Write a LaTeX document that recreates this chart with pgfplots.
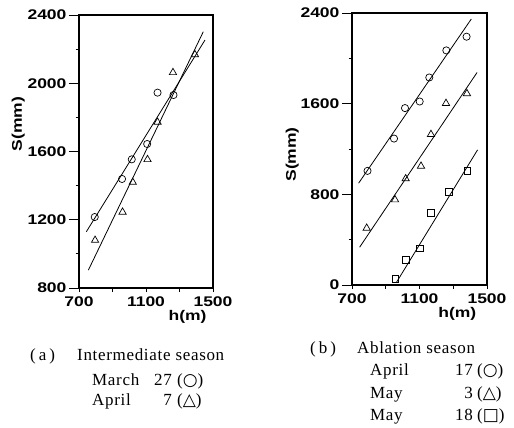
\documentclass[border=0pt]{standalone}
\usepackage{fontspec}
\setmainfont{Liberation Serif}
\newfontfamily\tickfont[FakeStretch=1.25]{Liberation Sans}
\newfontfamily\symfont{DejaVu Sans}
\usepackage{pgfplots}
\pgfplotsset{compat=1.18}

\pgfplotsset{
  panel/.style={
    scale only axis,
    xmin=700, xmax=1500,
    xtick={700,1100,1500},
    minor xtick={700,900,1100,1300,1500},
    major x tick style={draw=none},
    tick align=outside,
    major tick length=10pt,
    minor tick length=3.5pt,
    tick style={black, line width=0.8pt},
    axis line style={line width=1.1pt},
    xtick pos=bottom, ytick pos=left,
    /pgf/number format/1000 sep={},
    /pgf/number format/assume math mode=true,
    ticklabel style={font=\fontsize{14pt}{14pt}\tickfont\bfseries},
    xticklabel style={yshift=5pt},
    yticklabel style={xshift=1pt},
    xlabel={h(m)},
    ylabel={S(mm)},
  },
  fit/.style={black, line width=0.8pt, no marks},
  pts/.style={only marks, black, mark options={fill=white, line width=0.7pt}},
}

\begin{document}
\begin{tikzpicture}
\path[use as bounding box] (0,0) rectangle (514pt,-428pt);

% (a) intermediate season
\begin{axis}[panel,
  at={(79pt,-288pt)}, anchor=south west,
  width=134pt, height=273pt,
  ymin=800, ymax=2400,
  ytick={800,1200,1600,2000,2400},
  minor ytick={1000,1400,1800,2200},
  every axis x label/.style={at={(ticklabel cs:0.81)}, anchor=north, yshift=3pt,
    font=\fontsize{14pt}{14pt}\tickfont\bfseries},
  every axis y label/.style={at={(ticklabel cs:0.60)}, rotate=90, anchor=south, yshift=-4pt,
    font=\fontsize{14pt}{14pt}\tickfont\bfseries},
]
\addplot[fit] coordinates {(744,1130) (1452,2253)};
\addplot[fit] coordinates {(756,905) (1442,2302)};
\addplot[pts, mark=o, mark size=3.6pt] coordinates {
  (794,1216) (957,1439) (1015,1554) (1107,1644) (1169,1945) (1264,1931)};
\addplot[pts, mark=triangle, mark size=4.2pt] coordinates {
  (796,1080) (960,1245) (1021,1420) (1109,1553) (1169,1772) (1261,2063) (1392,2168)};
\end{axis}

% (b) ablation season
\begin{axis}[panel,
  at={(352pt,-285pt)}, anchor=south west,
  width=135pt, height=272pt,
  ymin=0, ymax=2400,
  ytick={0,800,1600,2400},
  yticklabels={{\raisebox{-8pt}{0}},800,1600,2400},
  minor ytick={400,1200,2000},
  every axis x label/.style={at={(ticklabel cs:0.78)}, anchor=north, yshift=3pt,
    font=\fontsize{14pt}{14pt}\tickfont\bfseries},
  every axis y label/.style={at={(ticklabel cs:0.48)}, rotate=90, anchor=south, yshift=-5pt,
    font=\fontsize{14pt}{14pt}\tickfont\bfseries},
]
\addplot[fit] coordinates {(739,898) (1407,2347)};
\addplot[fit] coordinates {(745,333) (1441,1875)};
\addplot[fit] coordinates {(962,20) (1444,1192)};
\addplot[pts, mark=o, mark size=3.6pt] coordinates {
  (792,1007) (949,1292) (1014,1561) (1101,1619) (1158,1831) (1259,2070) (1379,2191)};
\addplot[pts, mark=triangle, mark size=4.2pt] coordinates {
  (787,502) (955,752) (1018,938) (1109,1049) (1168,1329) (1257,1603) (1381,1689)};
\addplot[pts, mark=square, mark size=3.4pt] coordinates {
  (957,56) (1018,221) (1101,324) (1168,639) (1273,819) (1383,1007)};
\end{axis}

% captions
\begin{scope}[every node/.style={inner sep=0pt, font=\fontsize{17pt}{17pt}\selectfont\addfontfeatures{LetterSpace=4}}]
\node[anchor=base west] at (30pt,-360pt) {(\hspace{3pt}a\hspace{3pt})};
\node[anchor=base west] at (77pt,-360pt) {Intermediate season};
\node[anchor=base west] at (92pt,-385pt) {March};
\node[anchor=base east] at (172pt,-385pt) {27};
\node[anchor=base west] at (177pt,-385pt) {({\symfont ○})};
\node[anchor=base west] at (92pt,-405.5pt) {April};
\node[anchor=base east] at (172pt,-405.5pt) {7};
\node[anchor=base west] at (177pt,-405.5pt) {({\symfont △})};

\node[anchor=base west] at (310pt,-353pt) {(\hspace{3pt}b\hspace{3pt})};
\node[anchor=base west] at (357pt,-353pt) {Ablation season};
\node[anchor=base west] at (370pt,-375pt) {April};
\node[anchor=base east] at (473pt,-375pt) {17};
\node[anchor=base west] at (477pt,-375pt) {({\symfont ○})};
\node[anchor=base west] at (370pt,-398pt) {May};
\node[anchor=base east] at (473pt,-398pt) {3};
\node[anchor=base west] at (477pt,-398pt) {({\symfont △})};
\node[anchor=base west] at (370pt,-420pt) {May};
\node[anchor=base east] at (473pt,-420pt) {18};
\node[anchor=base west] at (477pt,-420pt) {({\symfont □})};
\end{scope}
\end{tikzpicture}
\end{document}
